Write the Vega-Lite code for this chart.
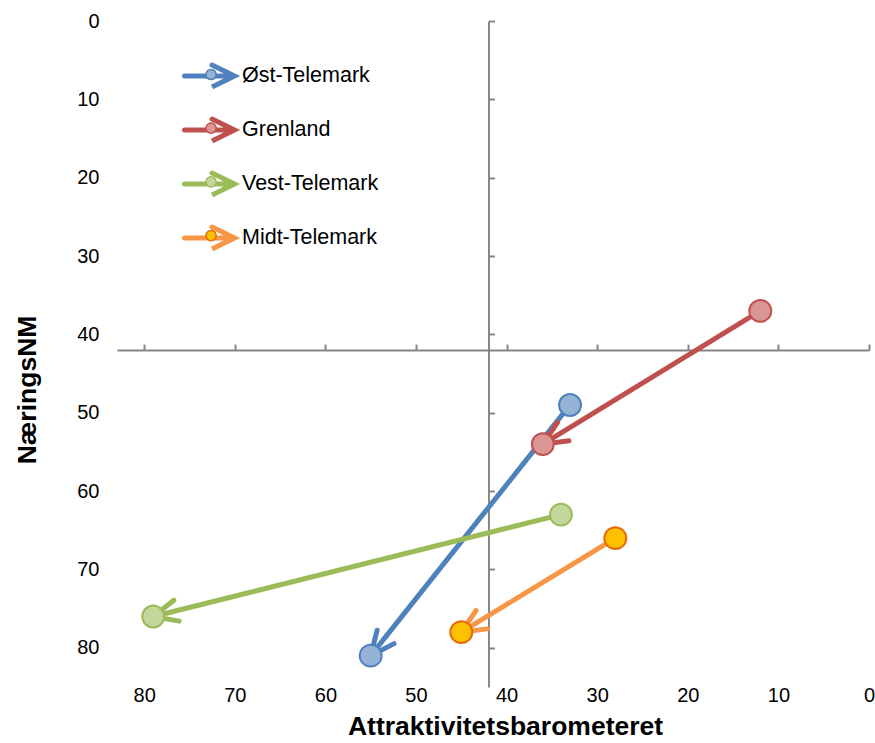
{
  "$schema": "https://vega.github.io/schema/vega-lite/v6.json",
  "width": 752,
  "height": 666,
  "autosize": {"type": "none"},
  "padding": {"left": 117, "top": 21, "right": 6, "bottom": 56},
  "background": "white",
  "config": {
    "view": {"stroke": null},
    "font": "Liberation Sans",
    "axis": {"labelFont": "Liberation Sans", "titleFont": "Liberation Sans"},
    "legend": {"labelFont": "Liberation Sans"}
  },
  "data": {
    "values": [
      {"series": "Øst-Telemark", "x1": 33, "y1": 49, "x2": 55, "y2": 81},
      {"series": "Grenland", "x1": 12, "y1": 37, "x2": 36, "y2": 54},
      {"series": "Vest-Telemark", "x1": 34, "y1": 63, "x2": 79, "y2": 76},
      {"series": "Midt-Telemark", "x1": 28, "y1": 66, "x2": 45, "y2": 78}
    ]
  },
  "layer": [
    {
      "mark": {"type": "rule", "strokeWidth": 5, "strokeCap": "butt"},
      "encoding": {
        "x": {
          "field": "x1", "type": "quantitative",
          "scale": {"domain": [0, 83], "reverse": true, "nice": false, "zero": false},
          "axis": {
            "orient": "bottom", "values": [0, 10, 20, 30, 40, 50, 60, 70, 80],
            "domain": false, "ticks": false, "tickSize": 0, "grid": false,
            "labelFontSize": 20, "labelColor": "#000", "labelPadding": 8, "labelBaseline": "middle",
            "labelFlush": false, "labelOverlap": false,
            "title": "Attraktivitetsbarometeret", "titleFontSize": 26.5, "titleFontWeight": "bold",
            "titleColor": "#000", "titleX": 388, "titleY": 47.5, "titleBaseline": "alphabetic", "titleAlign": "center"
          }
        },
        "y": {
          "field": "y1", "type": "quantitative",
          "scale": {"domain": [0, 85], "reverse": true, "nice": false, "zero": false},
          "axis": {
            "orient": "left", "values": [0, 10, 20, 30, 40, 50, 60, 70, 80],
            "domain": false, "ticks": false, "tickSize": 0, "grid": false,
            "labelFontSize": 20, "labelColor": "#000", "labelPadding": 18, "labelOverlap": false,
            "title": "NæringsNM", "titleFontSize": 26.5, "titleFontWeight": "bold", "titleColor": "#000",
            "titleX": -90, "titleY": 368.5, "titleBaseline": "middle", "titleAngle": -90, "titleAlign": "center"
          }
        },
        "x2": {"field": "x2"},
        "y2": {"field": "y2"},
        "stroke": {
          "field": "series", "type": "nominal",
          "scale": {
            "domain": ["Øst-Telemark", "Grenland", "Vest-Telemark", "Midt-Telemark"],
            "range": ["#4F81BD", "#C0504D", "#9BBB59", "#F79646"]
          },
          "legend": {
            "title": null, "orient": "none", "legendX": 65, "legendY": 27,
            "symbolType": "M-1,0L0.8,0M0.08,-0.43L0.96,0L0.08,0.43L0.96,0",
            "symbolSize": 2601, "symbolStrokeWidth": 5, "symbolFillColor": "transparent",
            "labelFontSize": 21.5, "labelColor": "#000", "labelOffset": 4, "labelLimit": 400,
            "rowPadding": 5, "zindex": 1,
            "encode": {"symbols": {"update": {"fill": {"value": "transparent"}, "strokeCap": {"value": "round"}, "opacity": {"value": 1}}}}
          }
        }
      }
    },
    {
      "mark": {
        "type": "point", "shape": "M-1,-0.45L0,0L-1,0.45", "size": 2300, "filled": false,
        "strokeWidth": 5, "strokeCap": "round", "strokeJoin": "miter", "opacity": 1,
        "angle": {"expr": "atan2(scale('y', datum.y2) - scale('y', datum.y1), scale('x', datum.x2) - scale('x', datum.x1)) * 180 / PI"}
      },
      "encoding": {
        "x": {
          "field": "x2", "type": "quantitative",
          "axis": {
            "orient": "top", "offset": {"expr": "-scale('y', 42)"},
            "values": [0, 10, 20, 30, 40, 50, 60, 70, 80],
            "domain": true, "domainColor": "#868686", "domainWidth": 2,
            "ticks": true, "tickColor": "#868686", "tickWidth": 2, "tickSize": 6,
            "labels": false, "title": null, "grid": false
          }
        },
        "y": {
          "field": "y2", "type": "quantitative",
          "axis": {
            "orient": "right", "offset": {"expr": "scale('x', 42) - width"},
            "values": [0, 10, 20, 30, 40, 50, 60, 70, 80],
            "domain": true, "domainColor": "#868686", "domainWidth": 2,
            "ticks": true, "tickColor": "#868686", "tickWidth": 2, "tickSize": 6,
            "labels": false, "title": null, "grid": false
          }
        },
        "stroke": {"field": "series", "type": "nominal"}
      }
    },
    {
      "mark": {
        "type": "point", "shape": "circle", "size": 480, "filled": true, "strokeWidth": 2, "opacity": 1,
        "stroke": {"expr": "(datum.series || datum.value) === 'Midt-Telemark' ? '#E46C0A' : scale('stroke', datum.series || datum.value)"}
      },
      "encoding": {
        "x": {"field": "x1", "type": "quantitative", "axis": null},
        "y": {"field": "y1", "type": "quantitative", "axis": null},
        "fill": {
          "field": "series", "type": "nominal", "sort": null,
          "scale": {"range": ["#95B3D7", "#D99694", "#C3D69B", "#FFC000"]},
          "legend": {
            "title": null, "orient": "none", "legendX": 65, "legendY": 27,
            "symbolType": "M0.3,0A0.2,0.2 0 1,1 -0.1,0A0.2,0.2 0 1,1 0.3,0Z",
            "symbolSize": 2601, "symbolStrokeWidth": 1.5,
            "labelFontSize": 20, "labelExpr": "''", "labelOffset": 8, "labelLimit": 400,
            "rowPadding": 16.7, "zindex": 2,
            "encode": {"symbols": {"update": {"stroke": {"signal": "datum.value === 'Midt-Telemark' ? '#E46C0A' : scale('stroke', datum.value)"}, "strokeWidth": {"value": 1.5}, "opacity": {"value": 1}}}}
          }
        }
      }
    },
    {
      "mark": {
        "type": "point", "shape": "circle", "size": 480, "filled": true, "strokeWidth": 2, "opacity": 1,
        "stroke": {"expr": "(datum.series || datum.value) === 'Midt-Telemark' ? '#E46C0A' : scale('stroke', datum.series || datum.value)"}
      },
      "encoding": {
        "x": {"field": "x2", "type": "quantitative", "axis": null},
        "y": {"field": "y2", "type": "quantitative", "axis": null},
        "fill": {"field": "series", "type": "nominal", "sort": null}
      }
    }
  ],
  "resolve": {"axis": {"x": "independent", "y": "independent"}}
}
